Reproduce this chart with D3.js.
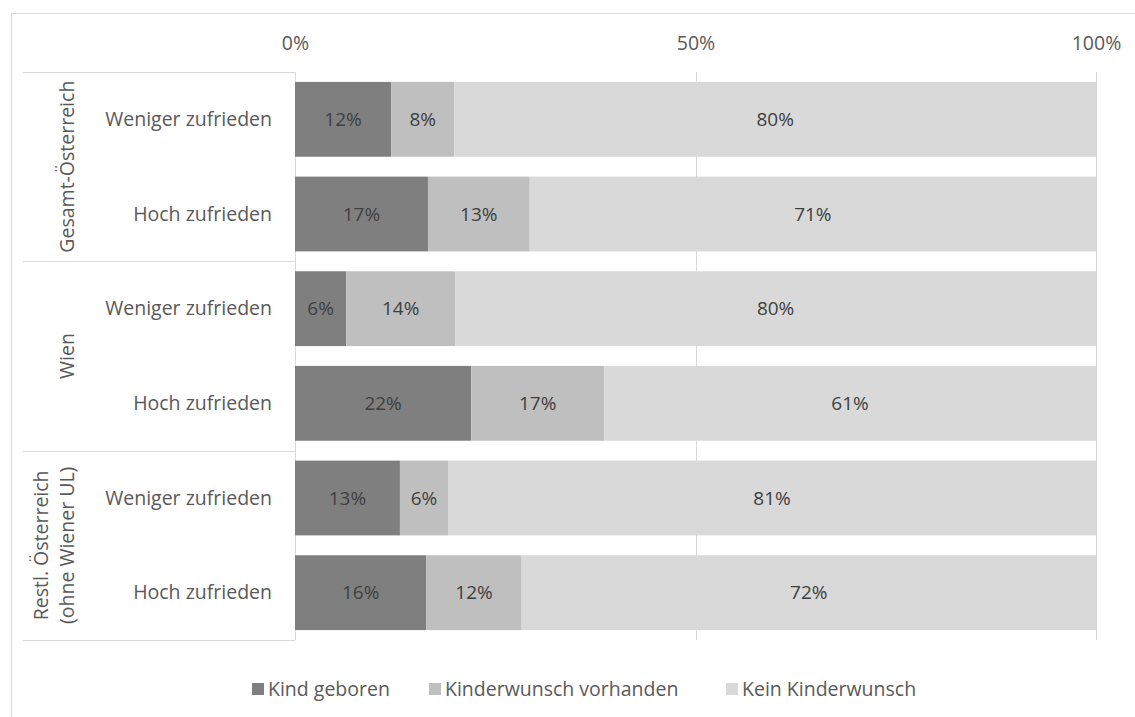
<!DOCTYPE html>
<html>
<head>
<meta charset="utf-8">
<script src="https://cdn.jsdelivr.net/npm/d3@7"></script>
<style>
  body { margin: 0; background: #fff; }
  text { font-family: "Open Sans", sans-serif; }
</style>
</head>
<body>
<div id="viz"></div>
<script>
// data
var groups = ["Gesamt-Österreich", "Wien", "Restl. Österreich|(ohne Wiener UL)"];
var rowLabels = ["Weniger zufrieden", "Hoch zufrieden"];
var seriesNames = ["Kind geboren", "Kinderwunsch vorhanden", "Kein Kinderwunsch"];
var seriesColors = ["#7f7f7f", "#bfbfbf", "#d9d9d9"];
var kindGeboren   = [12.0, 16.6, 6.4, 22.0, 13.1, 16.4];
var kinderwunsch  = [7.9, 12.7, 13.6, 16.6, 6.0, 11.9];
var keinWunsch    = [80.1, 70.7, 80.0, 61.4, 80.9, 71.7];
var tickValues = [0, 50, 100];

// dimensions
var width = 1135, height = 717;
var x0 = 295, x1 = 1096, yTop = 72, yBottom = 640;
var fs = "19.5px";

var svg = d3.select("#viz")
  .append("svg")
  .attr("width", width)
  .attr("height", height);

// outer chart border
svg.append("rect")
  .attr("x", 11.5).attr("y", 13.5)
  .attr("width", 1130).attr("height", 720)
  .attr("fill", "none")
  .attr("stroke", "#d9d9d9");

// rows table
var rows = [];
groups.forEach(function(g, gi) {
  rowLabels.forEach(function(r, ri) {
    var i = gi * 2 + ri;
    rows.push({ key: g + "-" + r, group: g, label: r,
      values: [kindGeboren[i], kinderwunsch[i], keinWunsch[i]] });
  });
});

var xScale = d3.scaleLinear().domain([0, 100]).range([x0, x1]);
var yScale = d3.scaleBand()
  .domain(rows.map(d => d.key))
  .range([yTop, yBottom])
  .paddingInner(0.21)
  .paddingOuter(0.105);
var groupScale = d3.scaleBand().domain(groups).range([yTop, yBottom]);

// gridlines
svg.append("g")
  .selectAll("line")
  .data(tickValues)
  .enter().append("line")
  .attr("x1", d => Math.round(xScale(d)) + 0.5)
  .attr("x2", d => Math.round(xScale(d)) + 0.5)
  .attr("y1", yTop).attr("y2", yBottom)
  .attr("stroke", "#d9d9d9");

// tick labels (top axis)
var xAxis = d3.axisTop(xScale).tickValues(tickValues).tickSize(0).tickFormat(d => d + "%");
var axisG = svg.append("g")
  .attr("transform", "translate(0,46)")
  .call(xAxis);
axisG.select(".domain").remove();
axisG.selectAll("text")
  .attr("fill", "#595959")
  .attr("dy", "0.35em")
  .style("font-size", fs)
  .style("font-family", "Open Sans, sans-serif");

// group separator lines in the label area
var sepY = groups.map(g => groupScale(g)).concat([yBottom]);
svg.append("g")
  .selectAll("line")
  .data(sepY)
  .enter().append("line")
  .attr("x1", 23).attr("x2", x0)
  .attr("y1", d => Math.round(d) + 0.5)
  .attr("y2", d => Math.round(d) + 0.5)
  .attr("stroke", "#d9d9d9");

// stacked bars
var stack = rows.map(function(d) {
  var acc = 0;
  return d.values.map(function(v, si) {
    var seg = { key: d.key, s: si, start: acc, end: acc + v, v: v };
    acc += v;
    return seg;
  });
});
var segs = [].concat.apply([], stack);

svg.append("g")
  .selectAll("rect")
  .data(segs)
  .enter().append("rect")
  .attr("x", d => xScale(d.start))
  .attr("y", d => yScale(d.key))
  .attr("width", d => xScale(d.end) - xScale(d.start))
  .attr("height", yScale.bandwidth())
  .attr("fill", d => seriesColors[d.s]);

svg.append("g")
  .selectAll("text")
  .data(segs)
  .enter().append("text")
  .attr("x", d => xScale((d.start + d.end) / 2))
  .attr("y", d => yScale(d.key) + yScale.bandwidth() / 2)
  .attr("dy", "0.35em")
  .attr("text-anchor", "middle")
  .attr("fill", "#404040")
  .style("font-size", "19px")
  .text(d => Math.round(d.v) + "%");

// row labels
svg.append("g")
  .selectAll("text")
  .data(rows)
  .enter().append("text")
  .attr("x", 272)
  .attr("y", d => yScale(d.key) + yScale.bandwidth() / 2)
  .attr("dy", "0.35em")
  .attr("text-anchor", "end")
  .attr("fill", "#595959")
  .style("font-size", fs)
  .text(d => d.label);

// group labels (rotated)
var gl = svg.append("g")
  .selectAll("text")
  .data(groups)
  .enter().append("text")
  .attr("transform", d => "translate(67," + (groupScale(d) + groupScale.bandwidth() / 2) + ") rotate(-90)")
  .attr("text-anchor", "middle")
  .attr("fill", "#595959")
  .style("font-size", fs);
gl.each(function(d) {
  var lines = d.split("|");
  var t = d3.select(this);
  lines.forEach(function(l, li) {
    t.append("tspan")
      .attr("x", 0)
      .attr("y", (li - (lines.length - 1)) * 26)
      .attr("dy", "0.35em")
      .text(l);
  });
});

// legend
var legendX = [252, 429, 726];
var legend = svg.append("g")
  .selectAll("g")
  .data(seriesNames)
  .enter().append("g")
  .attr("transform", (d, i) => "translate(" + legendX[i] + ",689)");
legend.append("rect")
  .attr("x", 0).attr("y", -6)
  .attr("width", 12).attr("height", 12)
  .attr("fill", (d, i) => seriesColors[i]);
legend.append("text")
  .attr("x", 16)
  .attr("dy", "0.35em")
  .attr("fill", "#595959")
  .style("font-size", fs)
  .text(d => d);
</script>
</body>
</html>
